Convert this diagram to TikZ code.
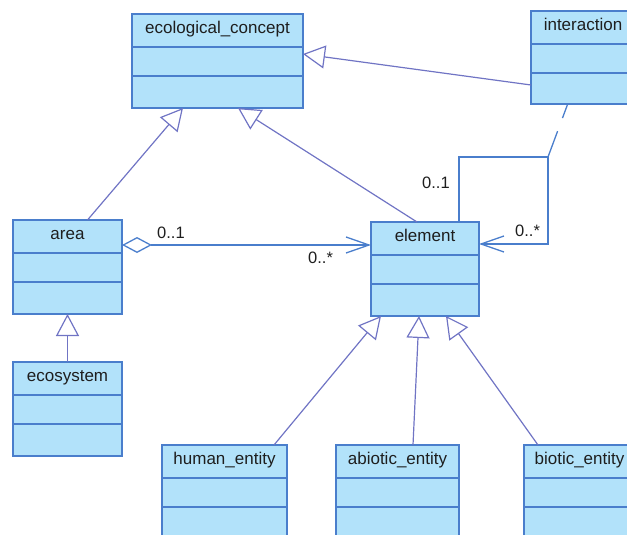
\documentclass[tikz,border=0pt]{standalone}
\usepackage{fontspec}
\setmainfont{Liberation Sans}
\usetikzlibrary{arrows.meta,calc}

\definecolor{clsfill}{RGB}{178,226,250}
\definecolor{clsline}{RGB}{74,126,204}
\definecolor{genline}{RGB}{112,116,196}
\definecolor{inkgray}{RGB}{30,30,30}

% one UML class box: name, x, y, width, height, title
\newcommand{\umlbox}[6]{%
  \node[cls, minimum width=#4pt, minimum height=#5pt] (#1) at (#2,#3) {};
  \draw[sep] ([yshift=-33pt]#1.north west) -- ([yshift=-33pt]#1.north east);
  \draw[sep] ([yshift=-62pt]#1.north west) -- ([yshift=-62pt]#1.north east);
  \node[title] (#1-name) at ([yshift=-19.5pt]#1.north) {#6};
}

\begin{document}
\begin{tikzpicture}[x=1pt,y=-1pt,
  cls/.style={draw=clsline, fill=clsfill, line width=1.4pt, anchor=north west,
    inner sep=0pt, outer sep=0pt},
  sep/.style={draw=clsline, line width=1.4pt},
  title/.style={anchor=base, font=\fontsize{17}{20}\selectfont, text=inkgray, inner sep=0pt},
  mult/.style={anchor=base west, font=\fontsize{16.5}{20}\selectfont, text=inkgray, inner sep=0pt},
  gen/.style={draw=genline, line width=1.2pt,
    -{Triangle[open, length=22pt, width=23pt, line width=1.2pt]}},
  assoc/.style={draw=clsline, line width=1.3pt},
  barb/.style={-{Straight Barb[length=23pt, width=16pt, line width=1.3pt]}},
]
\useasboundingbox (0,0) rectangle (627,535);
\clip (0,0) rectangle (627,535);

% classes
\umlbox{eco}{132}{14}{171}{94}{ecological\_concept}
\umlbox{inter}{531}{11}{104}{93}{interaction}
\umlbox{area}{13}{220}{109}{94}{area}
\umlbox{element}{371}{222}{108}{94}{element}
\umlbox{ecosys}{13}{362}{109}{94}{ecosystem}
\umlbox{human}{162}{445}{125}{94}{human\_entity}
\umlbox{abiotic}{336}{445}{123}{94}{abiotic\_entity}
\umlbox{biotic}{524}{445}{111}{94}{biotic\_entity}

% generalisations
\draw[gen] ([xshift=20pt]area.north) -- ([xshift=-34.5pt]eco.south);
\draw[gen] ([xshift=-8pt]element.north) -- ([xshift=20.5pt]eco.south);
\draw[gen] ([yshift=-74pt]inter.north west) -- ([yshift=-40pt]eco.north east);
\draw[gen] (ecosys.north) -- (area.south);
\draw[gen] ([xshift=112pt]human.north west) -- ([xshift=10pt]element.south west);
\draw[gen] ([xshift=77pt]abiotic.north west) -- ([xshift=48pt]element.south west);
\draw[gen] ([xshift=14pt]biotic.north west) -- ([xshift=75pt]element.south west);

% aggregation area -> element
\draw[assoc, {Diamond[open, length=30pt, width=16pt, line width=1.3pt]}-{Straight Barb[length=23pt, width=16pt, line width=1.3pt]}]
  ([yshift=-25pt]area.north east) -- ([yshift=-23pt]element.north west);
\node[mult] (m-area-one) at (157,238.3) {0..1};
\node[mult] (m-area-many) at (308,263.3) {0..*};

% reflexive association on element, with association class
\coordinate (knot) at (548,157);
\draw[assoc] ([xshift=34pt]element.north) |- (knot);
\draw[assoc, barb] (knot) |- ([yshift=-22pt]element.north east);
\draw[assoc, dash pattern=on 15pt off 14pt on 40pt] ([xshift=36.7pt]inter.south west) -- (knot);
\node[mult] (m-self-one) at (422,188.3) {0..1};
\node[mult] (m-self-many) at (515,236) {0..*};
\end{tikzpicture}
\end{document}
